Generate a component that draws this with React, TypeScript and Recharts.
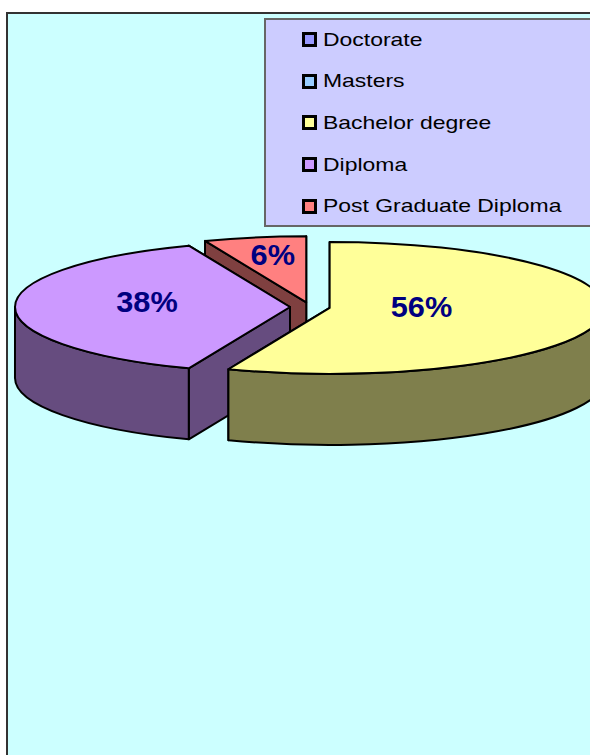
import { PieChart, Pie, Cell, Legend } from "recharts";

const categories = ["Doctorate", "Masters", "Bachelor degree", "Diploma", "Post Graduate Diploma"];
const shares = [0, 0, 56, 38, 6];
const colors = ["#9999FF", "#99CCFF", "#FFFF99", "#CC99FF", "#FF8080"];

// excel goes clockwise from 12 o'clock, recharts counter-clockwise:
// feed reversed so angles match (and we get back-to-front paint order)
const pieData = categories.map((name, i) => ({ name, value: shares[i], color: colors[i] })).reverse();

// how far out along the slice each % label sits (fraction of radius)
const labelRadius: Record<string, number> = {
  "Bachelor degree": 0.34,
  Diploma: 0.52,
  "Post Graduate Diploma": 0.65,
};

const TILT = 0.24;
const DEPTH = 71;
const EXPLODE = 20;
const RAD = Math.PI / 180;
const FONT = '"Liberation Sans", Arial, sans-serif';

function darken(hex: string) {
  const n = parseInt(hex.slice(1), 16);
  const r = ((n >> 16) & 255) >> 1;
  const g = ((n >> 8) & 255) >> 1;
  const b = (n & 255) >> 1;
  return `rgb(${r},${g},${b})`;
}

function renderSlice(props: any) {
  const { cx, cy, outerRadius: r, startAngle, endAngle, fill } = props;
  const a0 = Math.min(startAngle, endAngle);
  const a1 = Math.max(startAngle, endAngle);
  if (a1 - a0 < 0.01) return <g />;
  const mid = (a0 + a1) / 2;
  const ox = cx + EXPLODE * Math.cos(mid * RAD);
  const oy = cy - EXPLODE * Math.sin(mid * RAD) * TILT;
  const ry = r * TILT;
  const pt = (a: number, z = 0) => [ox + r * Math.cos(a * RAD), oy - ry * Math.sin(a * RAD) + z];
  const side = darken(fill);
  const line = { stroke: "#000", strokeWidth: 2, strokeLinejoin: "round" as const };

  const walls = [a0, a1].map((a, i) => {
    const p = pt(a);
    const q = pt(a, DEPTH);
    const d = `M${ox},${oy} L${p[0]},${p[1]} L${q[0]},${q[1]} L${ox},${oy + DEPTH} Z`;
    return <path key={"w" + i} d={d} fill={side} {...line} />;
  });

  // outer rim only where it faces the viewer (lower half)
  let rim = null;
  const s = Math.max(a0, 180);
  const e = Math.min(a1, 360);
  if (e > s) {
    const p0 = pt(s);
    const p1 = pt(e);
    const q1 = pt(e, DEPTH);
    const q0 = pt(s, DEPTH);
    const big = e - s > 180 ? 1 : 0;
    const d = `M${p0[0]},${p0[1]} A${r},${ry} 0 ${big} 0 ${p1[0]},${p1[1]} L${q1[0]},${q1[1]} A${r},${ry} 0 ${big} 1 ${q0[0]},${q0[1]} Z`;
    rim = <path d={d} fill={side} {...line} />;
  }

  const p0 = pt(a0);
  const p1 = pt(a1);
  const big = a1 - a0 > 180 ? 1 : 0;
  const top = `M${ox},${oy} L${p0[0]},${p0[1]} A${r},${ry} 0 ${big} 0 ${p1[0]},${p1[1]} Z`;

  return (
    <g>
      {walls}
      {rim}
      <path d={top} fill={fill} {...line} />
    </g>
  );
}

function renderLabel(props: any) {
  const { cx, cy, midAngle, outerRadius, percent, name, value } = props;
  if (!value) return null;
  const f = labelRadius[name] ?? 0.5;
  const ox = cx + EXPLODE * Math.cos(midAngle * RAD);
  const oy = cy - EXPLODE * Math.sin(midAngle * RAD) * TILT;
  const x = ox + f * outerRadius * Math.cos(midAngle * RAD);
  const y = oy - f * outerRadius * TILT * Math.sin(midAngle * RAD) - 5;
  return (
    <text
      transform={`translate(${x},${y}) scale(1.06,1)`}
      textAnchor="middle"
      dominantBaseline="central"
      fill="#000080"
      fontWeight="bold"
      fontSize={29}
      fontFamily={FONT}
    >
      {Math.round(percent * 100)}%
    </text>
  );
}

function renderLegend() {
  return (
    <div
      style={{
        width: 340,
        height: 209,
        boxSizing: "border-box",
        background: "#CCCCFF",
        border: "2px solid #666",
        fontFamily: FONT,
        fontSize: 18.5,
        color: "#000",
      }}
    >
      <div style={{ marginTop: -1 }}>
        {categories.map((c, i) => (
          <div key={c} style={{ height: 41.6, display: "flex", alignItems: "center", paddingLeft: 36 }}>
            <span
              style={{
                width: 15,
                height: 15,
                flex: "none",
                boxSizing: "border-box",
                border: "3px solid #000",
                background: colors[i],
                marginRight: 6,
              }}
            />
            <span style={{ display: "inline-block", transform: "scaleX(1.24)", transformOrigin: "left center", whiteSpace: "nowrap" }}>
              {c}
            </span>
          </div>
        ))}
      </div>
    </div>
  );
}

export default function App() {
  return (
    <div style={{ position: "absolute", left: 0, top: 0, width: 590, height: 755, overflow: "hidden", background: "#fff" }}>
      <div
        style={{
          position: "absolute",
          left: 6,
          top: 12,
          width: 640,
          height: 800,
          background: "#CCFFFF",
          border: "2px solid #333",
        }}
      />
      <div style={{ position: "absolute", left: 0, top: 0 }}>
        <PieChart width={590} height={755} margin={{ top: 0, right: 0, bottom: 0, left: 0 }}>
          <Pie
            data={pieData}
            dataKey="value"
            nameKey="name"
            cx={310}
            cy={307}
            outerRadius={275}
            startAngle={90}
            endAngle={450}
            shape={renderSlice}
            label={renderLabel}
            labelLine={false}
            isAnimationActive={false}
          >
            {pieData.map((d) => (
              <Cell key={d.name} fill={d.color} />
            ))}
          </Pie>
          <Legend
            layout="vertical"
            align="center"
            verticalAlign="middle"
            content={renderLegend}
            wrapperStyle={{ left: 264, top: 18, width: 340, height: 209 }}
          />
        </PieChart>
      </div>
    </div>
  );
}
